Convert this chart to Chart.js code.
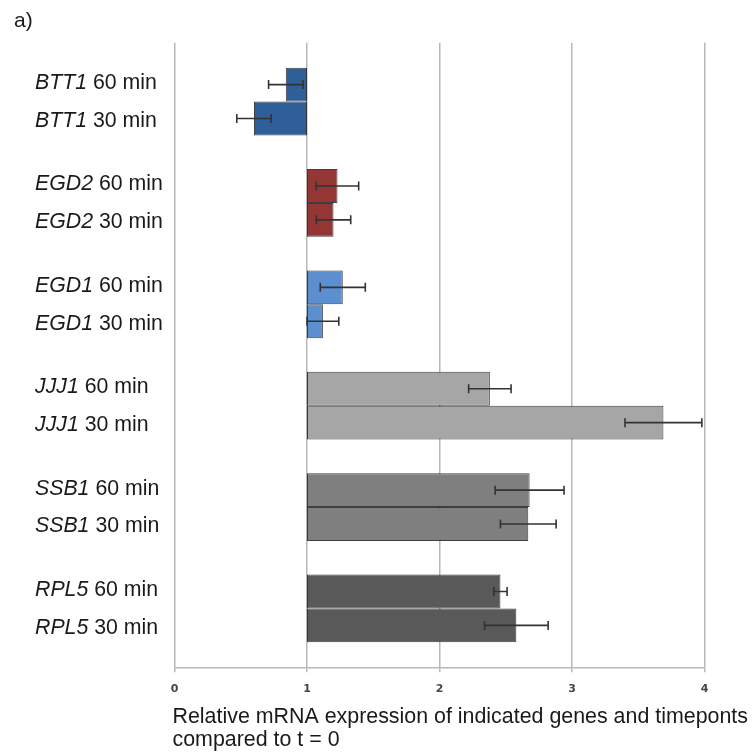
<!DOCTYPE html>
<html>
<head>
<meta charset="utf-8">
<script src="https://cdn.jsdelivr.net/npm/chart.js@4/dist/chart.umd.min.js"></script>
<style>
  html, body { margin: 0; padding: 0; background: #fff; }
  #wrap { position: relative; width: 754px; height: 755px; }
</style>
</head>
<body>
<div id="wrap"><canvas id="chart"></canvas></div>
<script>
// gene groups, top to bottom
const genes = ['BTT1', 'EGD2', 'EGD1', 'JJJ1', 'SSB1', 'RPL5'];
const timepoints = ['60 min', '30 min'];
// relative expression (bars start at 1 = t0)
const values60 = [0.84, 1.23, 1.27, 2.38, 2.68, 2.46];
const values30 = [0.60, 1.20, 1.12, 3.69, 2.67, 2.58];
// +/- error
const errors60 = [0.13, 0.16, 0.17, 0.16, 0.26, 0.05];
const errors30 = [0.13, 0.13, 0.12, 0.29, 0.21, 0.24];
const baseline = 1;
const xTicks = [0, 1, 2, 3, 4];
const xTitle = ['Relative mRNA expression of indicated genes and timeponts', 'compared to t = 0'];
const colors = ['#2f5f98', '#943634', '#5b8fd0', '#a6a6a6', '#7f7f7f', '#595959'];

const FONT = '"Liberation Sans", Arial, sans-serif';

// error bars + mixed italic/regular row labels + axis title + panel letter
const extras = {
  id: 'extras',
  afterDatasetsDraw(chart) {
    const ctx = chart.ctx;
    const xs = chart.scales.x;
    ctx.save();
    chart.data.datasets.forEach((ds, di) => {
      const meta = chart.getDatasetMeta(di);
      meta.data.forEach((bar, i) => {
        const v = ds.data[i][1];
        const e = ds.errors[i];
        const x1 = xs.getPixelForValue(v - e);
        const x2 = xs.getPixelForValue(v + e);
        const y = bar.y;
        ctx.strokeStyle = '#333';
        ctx.lineWidth = 1.6;
        ctx.beginPath();
        ctx.moveTo(x1, y); ctx.lineTo(x2, y);
        ctx.moveTo(x1, y - 4.5); ctx.lineTo(x1, y + 4.5);
        ctx.moveTo(x2, y - 4.5); ctx.lineTo(x2, y + 4.5);
        ctx.stroke();
      });
    });
    ctx.restore();
  },
  afterDraw(chart) {
    const ctx = chart.ctx;
    ctx.save();
    ctx.fillStyle = '#1a1a1a';
    ctx.textBaseline = 'middle';
    ctx.textAlign = 'left';
    chart.data.datasets.forEach((ds, di) => {
      const meta = chart.getDatasetMeta(di);
      meta.data.forEach((bar, i) => {
        const y = bar.y + (di === 0 ? -1.5 : 2.5);
        ctx.font = 'italic 21.3px ' + FONT;
        ctx.fillText(genes[i], 35, y);
        const w = ctx.measureText(genes[i]).width;
        ctx.font = '21.3px ' + FONT;
        ctx.fillText(' ' + ds.label, 35 + w, y);
      });
    });
    ctx.font = '21.4px ' + FONT;
    xTitle.forEach((line, k) => ctx.fillText(line, chart.chartArea.left - 2, 717 + k * 23));
    ctx.font = '21px ' + FONT;
    ctx.fillText('a)', 14, 21);
    ctx.restore();
  }
};

const chart = new Chart(document.getElementById('chart'), {
  type: 'bar',
  data: {
    labels: genes,
    datasets: [
      {
        label: timepoints[0],
        data: values60.map(v => [baseline, v]),
        errors: errors60,
        backgroundColor: colors,
        borderColor: 'rgba(15,15,15,0.8)',
        borderWidth: 1,
        borderSkipped: false
      },
      {
        label: timepoints[1],
        data: values30.map(v => [baseline, v]),
        errors: errors30,
        backgroundColor: colors,
        borderColor: 'rgba(15,15,15,0.8)',
        borderWidth: 1,
        borderSkipped: false
      }
    ]
  },
  options: {
    indexAxis: 'y',
    responsive: true,
    maintainAspectRatio: false,
    animation: false,
    categoryPercentage: 0.668,
    barPercentage: 1,
    layout: { padding: { left: 174.5, right: 49.5, top: 42.7, bottom: 0 } },
    plugins: {
      legend: { display: false },
      tooltip: { enabled: false }
    },
    scales: {
      y: {
        display: false,
        // stretch category range a little so the grid runs past the outer bars
        afterBuildTicks: s => { s._startValue = -0.58; s._valueRange = 6.16; }
      },
      x: {
        min: 0,
        max: 4,
        afterBuildTicks: s => { s.ticks = xTicks.map(v => ({ value: v })); },
        afterFit: s => { s.height = 755 - 667.3; },
        grid: { color: '#b8b8b8', lineWidth: 1.5, tickLength: 5 },
        border: { color: '#b8b8b8', width: 1.5 },
        ticks: {
          padding: 10,
          color: '#444',
          font: { family: '"DejaVu Sans", Verdana, sans-serif', size: 11, weight: 'bold' }
        }
      }
    }
  },
  plugins: [extras]
});
</script>
</body>
</html>
